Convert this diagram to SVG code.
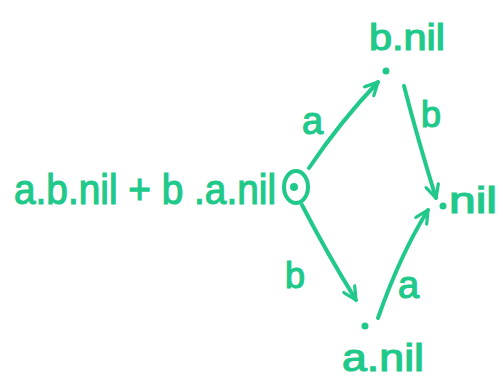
<svg xmlns="http://www.w3.org/2000/svg" width="503" height="383" viewBox="0 0 503 383">
<style>
.t{font-family:"Liberation Sans","DejaVu Sans",sans-serif;fill:#20c98a;stroke:#20c98a;stroke-width:1.2;}
.e{stroke:#20c98a;stroke-width:4;fill:none;stroke-linecap:round;}
.d{fill:#20c98a;}
</style>
<defs>
<marker id="ah" viewBox="0 0 10 10" refX="9" refY="5" markerWidth="4" markerHeight="4" orient="auto" markerUnits="strokeWidth">
<path d="M1,1 L9,5 L1,9" fill="none" stroke="#20c98a" stroke-width="2" stroke-linecap="round"/>
</marker>
</defs>
<rect width="503" height="383" fill="#ffffff"/>
<g id="connectors">
<path class="e" d="M309,168 Q340,122 378,82" marker-end="url(#ah)"/>
<text class="t" x="302" y="134" font-size="38">a</text>
<path class="e" d="M404,86 Q418,140 436,198" marker-end="url(#ah)"/>
<text class="t" x="421" y="127" font-size="36">b</text>
<path class="e" d="M302,205 Q328,255 356,300" marker-end="url(#ah)"/>
<text class="t" x="285" y="288" font-size="36">b</text>
<path class="e" d="M378,318 Q400,255 428,210" marker-end="url(#ah)"/>
<text class="t" x="398" y="298" font-size="38">a</text>
</g>
<g id="start">
<text class="t" x="14" y="204" font-size="42" textLength="262" lengthAdjust="spacingAndGlyphs">a.b.nil + b .a.nil</text>
<ellipse cx="296" cy="187" rx="12" ry="16" class="e" stroke-width="3.5"/>
<circle cx="294" cy="187" r="4" class="d"/>
</g>
<g id="bnil">
<text class="t" x="369" y="50" font-size="36" textLength="76" lengthAdjust="spacingAndGlyphs">b.nil</text>
<circle cx="386" cy="71" r="3.5" class="d"/>
</g>
<g id="nil">
<text class="t" x="449" y="213" font-size="36" textLength="48" lengthAdjust="spacingAndGlyphs">nil</text>
<circle cx="443" cy="206" r="3.5" class="d"/>
</g>
<g id="anil">
<text class="t" x="342" y="371" font-size="38" textLength="82" lengthAdjust="spacingAndGlyphs">a.nil</text>
<circle cx="365" cy="326" r="3.5" class="d"/>
</g>
</svg>
